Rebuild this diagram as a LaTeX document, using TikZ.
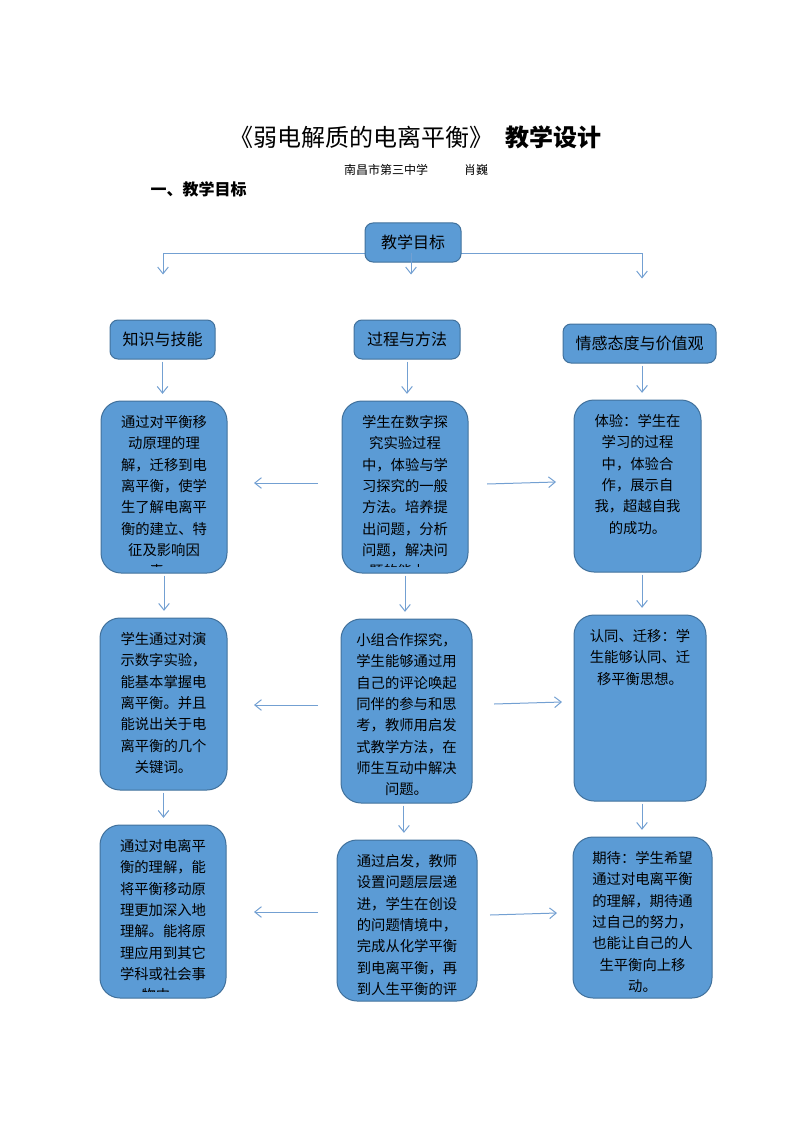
\documentclass[tikz,border=0pt]{standalone}
\usepackage{fontspec}
\setmainfont{Noto Sans CJK SC}
\usetikzlibrary{arrows.meta}
\definecolor{boxblue}{RGB}{91,155,213}
\definecolor{boxedge}{RGB}{65,113,156}
\definecolor{linkblue}{RGB}{115,160,210}
\begin{document}
\begin{tikzpicture}[x=0.75pt, y=-0.75pt,
    goal/.style={draw=boxedge, fill=boxblue, line width=0.75pt, rounded corners=6pt,
      minimum height=29.25pt, inner sep=0pt, font=\fontsize{12}{14}\selectfont},
    tall/.style={draw=boxedge, fill=boxblue, line width=0.75pt, rounded corners=15pt, inner sep=0pt},
    txt/.style={anchor=north, inner sep=0pt, align=center, yshift=-11pt,
      font=\fontsize{10.75}{16}\selectfont},
    link/.style={draw=linkblue, line width=0.75pt},
    arr/.style={link, -{Straight Barb[length=5pt, width=8pt]}},
    down/.style={arr, shorten <=1.5pt, shorten >=5pt}]
    \useasboundingbox (0,0) rectangle (794,1123);
    % heading
    \node (title) at (415,137) {\fontsize{18}{21}\selectfont 《弱电解质的电离平衡》\hspace{0.5em}{\bfseries 教学设计}};
    \node (author) at (416,170) {\fontsize{9}{11}\selectfont 南昌市第三中学\hspace{3em}肖巍};
    \node[anchor=west] (sec) at (146,189) {\fontsize{12}{14}\selectfont\bfseries 一、教学目标};
    % top goal and its three branches
    \coordinate (b1) at (163,253);
    \coordinate (b2) at (411,253);
    \coordinate (b3) at (642,253);
    \draw[link] (b1) -- (b3);
    \node (t) at (413,242.5) [goal, minimum width=72pt] {教学目标};
    \node (k) at (162.5,339.5) [goal, minimum width=78.75pt] {知识与技能};
    \node (p) at (407,339.5) [goal, minimum width=79.5pt] {过程与方法};
    \node (e) at (639.5,343.5) [goal, minimum width=114.75pt] {情感态度与价值观};
    \draw[arr, shorten >=33.75pt] (b1) -- (b1 |- k.north);
    \draw[arr, shorten >=33.75pt] (b2) -- (b2 |- p.north);
    \draw[arr, shorten >=33.75pt] (b3) -- (b3 |- e.north);
    % row 1
    \node (k1) at (164,487) [tall, minimum width=94.5pt, minimum height=129pt] {};
    \node (p1) at (405,487) [tall, minimum width=94.5pt, minimum height=129pt] {};
    \node (e1) at (637.5,486) [tall, minimum width=95.25pt, minimum height=129pt] {};
    \begin{scope}
      \clip (k1.north west) rectangle ([yshift=5.25pt]k1.south east);
      \node[txt] (k1t) at (k1.north) {通过对平衡移\\动原理的理\\解，迁移到电\\离平衡，使学\\生了解电离平\\衡的建立、特\\征及影响因\\素。};
    \end{scope}
    \begin{scope}
      \clip (p1.north west) rectangle ([yshift=5.25pt]p1.south east);
      \node[txt] (p1t) at (p1.north) {学生在数字探\\究实验过程\\中，体验与学\\习探究的一般\\方法。培养提\\出问题，分析\\问题，解决问\\题的能力。};
    \end{scope}
    \node[txt] (e1t) at (e1.north) {体验：学生在\\学习的过程\\中，体验合\\作，展示自\\我，超越自我\\的成功。};
    \draw[down] (k.south) -- (k.south |- k1.north);
    \draw[down] (p.south) -- (p.south |- p1.north);
    \draw[down] ([xshift=1.9pt]e.south) -- ([xshift=1.9pt]e.south |- e1.north);
    \coordinate (h1a) at (318,483);
    \coordinate (h1b) at (254,483);
    \coordinate (h1c) at (487,484);
    \coordinate (h1d) at (556,482);
    \draw[arr] (h1a) -- (h1b);
    \draw[arr] (h1c) -- (h1d);
    % row 2
    \node (k2) at (163.5,704) [tall, minimum width=95.25pt, minimum height=129pt] {};
    \node (p2) at (406.5,711) [tall, minimum width=98.25pt, minimum height=138pt] {};
    \node (e2) at (640,708) [tall, minimum width=99pt, minimum height=139.5pt] {};
    \node[txt] (k2t) at (k2.north) {学生通过对演\\示数字实验，\\能基本掌握电\\离平衡。并且\\能说出关于电\\离平衡的几个\\关键词。};
    \node[txt] (p2t) at (p2.north) {小组合作探究，\\学生能够通过用\\自己的评论唤起\\同伴的参与和思\\考，教师用启发\\式教学方法，在\\师生互动中解决\\问题。};
    \node[txt] (e2t) at (e2.north) {认同、迁移：学\\生能够认同、迁\\移平衡思想。};
    \draw[down] (k1.south) -- (k1.south |- k2.north);
    \draw[down] (p1.south) -- (p1.south |- p2.north);
    \draw[down] ([xshift=3.4pt]e1.south) -- ([xshift=3.4pt]e1.south |- e2.north);
    \coordinate (h2a) at (318,705);
    \coordinate (h2b) at (254,705);
    \coordinate (h2c) at (494,704);
    \coordinate (h2d) at (562,702);
    \draw[arr] (h2a) -- (h2b);
    \draw[arr] (h2c) -- (h2d);
    % row 3
    \node (k3) at (163,911.5) [tall, minimum width=94.5pt, minimum height=129.75pt] {};
    \node (p3) at (407,920.5) [tall, minimum width=105pt, minimum height=120.75pt] {};
    \node (e3) at (642.5,917.5) [tall, minimum width=104.25pt, minimum height=120.75pt] {};
    \begin{scope}
      \clip (k3.north west) rectangle ([yshift=5.25pt]k3.south east);
      \node[txt] (k3t) at (k3.north) {通过对电离平\\衡的理解，能\\将平衡移动原\\理更加深入地\\理解。能将原\\理应用到其它\\学科或社会事\\物中。};
    \end{scope}
    \begin{scope}
      \clip (p3.north west) rectangle ([yshift=3.75pt]p3.south east);
      \node[txt] (p3t) at (p3.north) {通过启发，教师\\设置问题层层递\\进，学生在创设\\的问题情境中，\\完成从化学平衡\\到电离平衡，再\\到人生平衡的评};
    \end{scope}
    \node[txt] (e3t) at (e3.north) {期待：学生希望\\通过对电离平衡\\的理解，期待通\\过自己的努力，\\也能让自己的人\\生平衡向上移\\动。};
    \draw[down] (k2.south) -- (k2.south |- k3.north);
    \draw[down] ([xshift=-1.9pt]p2.south) -- ([xshift=-1.9pt]p2.south |- p3.north);
    \draw[down] ([xshift=1.5pt]e2.south) -- ([xshift=1.5pt]e2.south |- e3.north);
    \coordinate (h3a) at (318,912);
    \coordinate (h3b) at (254,912);
    \coordinate (h3c) at (490,915);
    \coordinate (h3d) at (557,913);
    \draw[arr] (h3a) -- (h3b);
    \draw[arr] (h3c) -- (h3d);
\end{tikzpicture}
\end{document}
